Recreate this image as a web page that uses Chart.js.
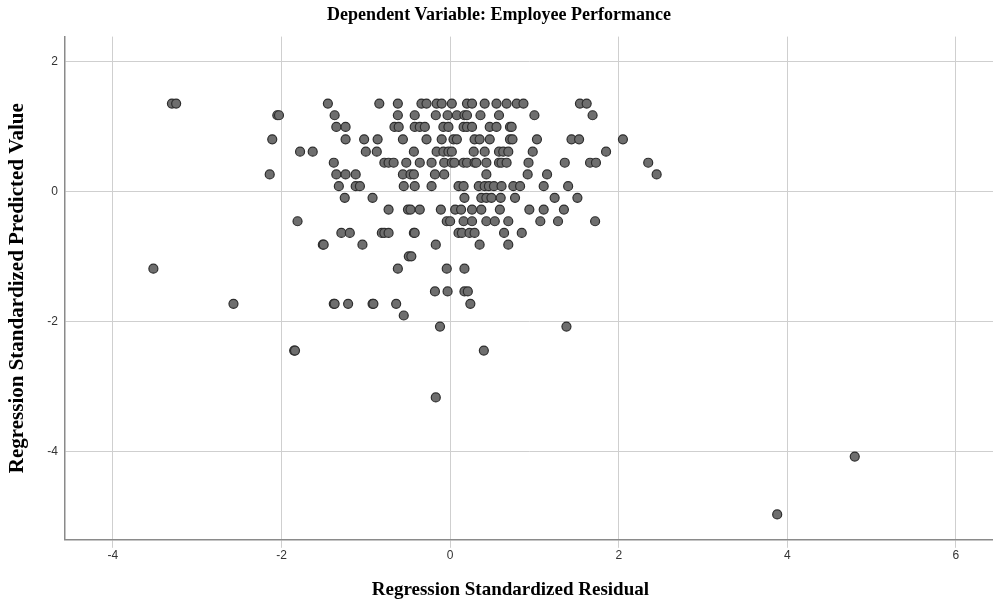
<!DOCTYPE html>
<html>
<head>
<meta charset="utf-8">
<script src="https://cdn.jsdelivr.net/npm/chart.js@4.4.1/dist/chart.umd.min.js"></script>
<style>
  html, body { margin: 0; padding: 0; background: #fff; }
  #wrap { width: 993px; height: 605px; }
</style>
</head>
<body>
<div id="wrap"><canvas id="chart" width="993" height="605"></canvas></div>
<script>
// predicted value levels (rows) and the residuals found on each row
const predictedLevels = [1.35, 1.17, 0.99, 0.80, 0.61, 0.44, 0.26, 0.08, -0.10, -0.28, -0.46,
  -0.64, -0.82, -1.00, -1.19, -1.54, -1.73, -1.91, -2.08, -2.45, -3.17];

const residualsByLevel = [
  [-3.30, -3.25, -1.45, -0.84, -0.62, -0.34, -0.28, -0.16, -0.10, 0.02, 0.20, 0.26, 0.41, 0.55, 0.67, 0.79, 0.87, 1.54, 1.62],
  [-2.05, -2.03, -1.37, -0.62, -0.42, -0.17, -0.03, 0.08, 0.17, 0.20, 0.36, 0.58, 1.00, 1.69],
  [-1.35, -1.24, -0.66, -0.61, -0.42, -0.36, -0.30, -0.08, -0.02, 0.16, 0.20, 0.26, 0.47, 0.55, 0.71, 0.73],
  [-2.11, -1.24, -1.02, -0.86, -0.56, -0.28, -0.10, 0.04, 0.08, 0.29, 0.35, 0.47, 0.71, 0.74, 1.03, 1.44, 1.53, 2.05],
  [-1.78, -1.63, -1.00, -0.87, -0.43, -0.16, -0.08, -0.02, 0.02, 0.28, 0.41, 0.58, 0.63, 0.69, 0.98, 1.85],
  [-1.38, -0.78, -0.73, -0.67, -0.52, -0.36, -0.22, -0.07, 0.02, 0.05, 0.16, 0.20, 0.29, 0.31, 0.43, 0.58, 0.61, 0.67, 0.93, 1.36, 1.66, 1.73, 2.35],
  [-2.14, -1.35, -1.24, -1.12, -0.56, -0.47, -0.43, -0.18, -0.07, 0.43, 0.92, 1.15, 2.45],
  [-1.32, -1.12, -1.07, -0.55, -0.42, -0.22, 0.10, 0.16, 0.34, 0.41, 0.46, 0.52, 0.61, 0.75, 0.83, 1.11, 1.40],
  [-1.25, -0.92, 0.17, 0.37, 0.43, 0.49, 0.60, 0.77, 1.24, 1.51],
  [-0.73, -0.50, -0.47, -0.36, -0.11, 0.06, 0.13, 0.26, 0.37, 0.59, 0.94, 1.11, 1.35],
  [-1.81, -0.04, 0.00, 0.16, 0.26, 0.43, 0.53, 0.69, 1.07, 1.28, 1.72],
  [-1.29, -1.19, -0.81, -0.78, -0.73, -0.43, -0.42, 0.10, 0.14, 0.23, 0.29, 0.64, 0.85],
  [-1.51, -1.50, -1.04, -0.17, 0.35, 0.69],
  [-0.49, -0.46],
  [-3.52, -0.62, -0.04, 0.17],
  [-0.18, -0.03, 0.17, 0.21],
  [-2.57, -1.38, -1.37, -1.21, -0.92, -0.91, -0.64, 0.24],
  [-0.55],
  [-0.12, 1.38],
  [-1.85, -1.84, 0.40],
  [-0.17]
];

// two outliers off the regular rows
const outlierResiduals = [4.80, 3.88];
const outlierPredicted = [-4.08, -4.97];

const xTicks = [-4, -2, 0, 2, 4, 6];
const yTicks = [-4, -2, 0, 2];

const xTitle = 'Regression Standardized Residual';

const points = [];
predictedLevels.forEach((lvl, i) => {
  residualsByLevel[i].forEach((r) => points.push({ x: r, y: lvl }));
});
outlierResiduals.forEach((r, i) => points.push({ x: r, y: outlierPredicted[i] }));

const serif = "'Liberation Serif', 'Times New Roman', serif";
const tickFont = "'Liberation Sans Narrow', 'Liberation Sans', Arial, sans-serif";

// x title is centred between the y axis and the last tick, like the original frame
const xTitlePlugin = {
  id: 'xTitle',
  afterDraw(chart) {
    const { ctx, chartArea, scales } = chart;
    const cx = (chartArea.left + scales.x.getPixelForValue(6)) / 2;
    ctx.save();
    ctx.font = "bold 19px " + serif;
    ctx.fillStyle = '#000';
    ctx.textAlign = 'center';
    ctx.textBaseline = 'middle';
    ctx.fillText(xTitle, cx, 590);
    ctx.restore();
  }
};

new Chart(document.getElementById('chart'), {
  type: 'scatter',
  data: {
    datasets: [{
      data: points,
      backgroundColor: '#6e6e6e',
      borderColor: '#2e2e2e',
      borderWidth: 1.2,
      pointRadius: 4.5,
      pointHoverRadius: 4.5
    }]
  },
  plugins: [xTitlePlugin],
  options: {
    responsive: false,
    animation: false,
    layout: { autoPadding: false, padding: { left: 5, right: 0, top: 0, bottom: 3 } },
    plugins: {
      legend: { display: false },
      tooltip: { enabled: false },
      title: {
        display: true,
        text: 'Dependent Variable: Employee Performance',
        color: '#000',
        font: { family: serif, size: 18, weight: 'bold' },
        padding: { top: 5, bottom: 10 }
      }
    },
    scales: {
      x: {
        type: 'linear',
        min: -4.57,
        max: 6.44,
        afterBuildTicks: (axis) => { axis.ticks = xTicks.map((v) => ({ value: v })); },
        grid: { color: '#cfcfcf', lineWidth: 1, tickLength: 8 },
        border: { color: '#8a8a8a', width: 1.5 },
        ticks: { color: '#333', font: { family: tickFont, size: 12 }, padding: 1 },
        title: {
          display: true,
          text: xTitle,
          color: 'rgba(0,0,0,0)',
          font: { family: serif, size: 19, weight: 'bold' },
          padding: { top: 15, bottom: 0 }
        }
      },
      y: {
        type: 'linear',
        min: -5.36,
        max: 2.38,
        afterBuildTicks: (axis) => { axis.ticks = yTicks.map((v) => ({ value: v })); },
        grid: { color: '#cfcfcf', lineWidth: 1, drawTicks: false },
        border: { color: '#8a8a8a', width: 1.5 },
        ticks: { color: '#333', font: { family: tickFont, size: 12 }, padding: 7 },
        title: {
          display: true,
          text: 'Regression Standardized Predicted Value',
          color: '#000',
          font: { family: serif, size: 21, weight: 'bold' },
          padding: { top: 0, bottom: 10 }
        }
      }
    }
  }
});
</script>
</body>
</html>
